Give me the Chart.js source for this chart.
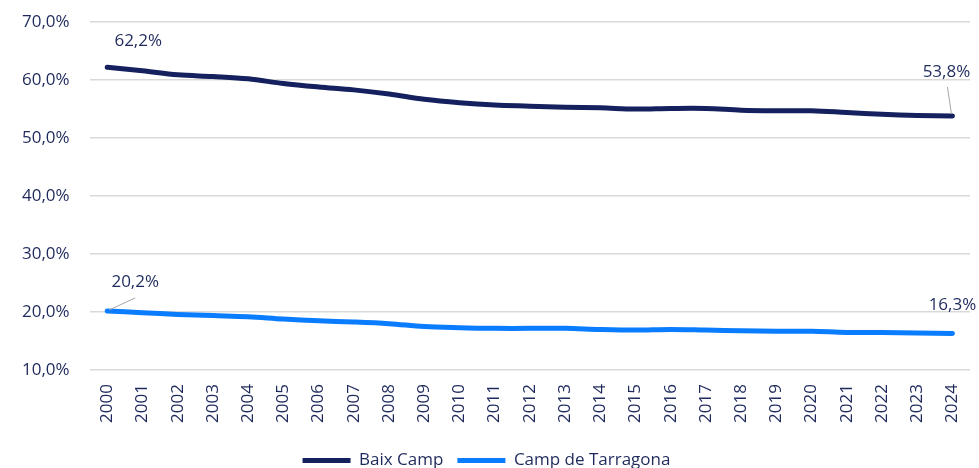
<!DOCTYPE html>
<html>
<head>
<meta charset="utf-8">
<script src="https://cdn.jsdelivr.net/npm/chart.js@4/dist/chart.umd.min.js"></script>
<style>
  html, body { margin: 0; padding: 0; background: #fff; }
  #wrap { width: 979px; height: 468px; }
</style>
</head>
<body>
<div id="wrap"><canvas id="myChart"></canvas></div>
<script>
var years = ["2000", "2001", "2002", "2003", "2004", "2005", "2006", "2007", "2008", "2009", "2010", "2011",
    "2012", "2013", "2014", "2015", "2016", "2017", "2018", "2019", "2020", "2021", "2022", "2023", "2024"];
var baixCamp = [62.2, 61.6, 60.9, 60.6, 60.2, 59.4, 58.8, 58.3, 57.6, 56.7, 56.1, 55.7,
    55.5, 55.3, 55.2, 55.0, 55.1, 55.1, 54.8, 54.7, 54.7, 54.4, 54.1, 53.9, 53.8];
var campTarragona = [20.2, 19.9, 19.6, 19.4, 19.2, 18.8, 18.5, 18.3, 18.0, 17.5, 17.3, 17.2,
    17.2, 17.2, 17.0, 16.9, 17.0, 16.9, 16.8, 16.7, 16.7, 16.5, 16.5, 16.4, 16.3];
var yTicks = [10, 20, 30, 40, 50, 60, 70];

var navy = "#14215e";
var blue = "#0a7cff";
var textColor = "#1f2a5c";
var font = "'Open Sans', sans-serif";

function pct(v) {
    return v.toFixed(1).replace(".", ",") + "%";
}

// labels for first and last point of each line, some with a small leader line
var endLabels = {
    id: "endLabels",
    afterDatasetsDraw: function (chart) {
        var c = chart.ctx;
        c.save();
        c.font = "17px " + font;
        c.fillStyle = textColor;
        c.textAlign = "center";
        c.textBaseline = "middle";
        c.strokeStyle = "#a6a6a6";
        c.lineWidth = 1;
        chart.data.datasets.forEach(function (ds, i) {
            var pts = chart.getDatasetMeta(i).data;
            var first = pts[0], last = pts[pts.length - 1];
            var n = ds.data.length - 1;
            if (i === 0) {
                c.fillText(pct(ds.data[0]), first.x + 31, first.y - 26);
                c.beginPath(); c.moveTo(last.x - 5, last.y - 29); c.lineTo(last.x - 1, last.y - 2); c.stroke();
                c.fillText(pct(ds.data[n]), last.x - 6, last.y - 44);
            } else {
                c.beginPath(); c.moveTo(first.x + 28, first.y - 13); c.lineTo(first.x + 2, first.y - 1); c.stroke();
                c.fillText(pct(ds.data[0]), first.x + 28, first.y - 29);
                c.fillText(pct(ds.data[n]), last.x, last.y - 28);
            }
        });
        c.restore();
    }
};

var ctx = document.getElementById("myChart");
var chart = new Chart(ctx, {
    type: "line",
    data: {
        labels: years,
        datasets: [
            { label: "Baix Camp", data: baixCamp, borderColor: navy, backgroundColor: navy,
              borderWidth: 5, pointRadius: 0, tension: 0.35, borderCapStyle: "round" },
            { label: "Camp de Tarragona", data: campTarragona, borderColor: blue, backgroundColor: blue,
              borderWidth: 5, pointRadius: 0, tension: 0.35, borderCapStyle: "round" }
        ]
    },
    options: {
        responsive: true,
        maintainAspectRatio: false,
        animation: false,
        layout: { padding: { top: 22, right: 8, left: 2, bottom: -11 } },
        plugins: {
            legend: {
                position: "bottom",
                labels: {
                    usePointStyle: true,
                    pointStyle: "line",
                    pointStyleWidth: 48,
                    color: textColor,
                    font: { family: font, size: 17 },
                    padding: 14
                }
            },
            tooltip: { enabled: false }
        },
        scales: {
            x: {
                offset: true,
                grid: { display: false },
                border: { display: false },
                afterFit: function (axis) { axis.height += 9; },
                ticks: {
                    color: textColor,
                    font: { family: font, size: 17 },
                    maxRotation: 90,
                    minRotation: 90,
                    autoSkip: false,
                    padding: 6
                }
            },
            y: {
                min: yTicks[0],
                max: yTicks[yTicks.length - 1],
                afterBuildTicks: function (axis) {
                    axis.ticks = yTicks.map(function (v) { return { value: v }; });
                },
                afterFit: function (axis) { axis.paddingTop = 0; },
                grid: { color: "#d9d9d9", lineWidth: 1.5, drawTicks: false },
                border: { display: false },
                ticks: {
                    color: textColor,
                    font: { family: font, size: 17 },
                    padding: 20,
                    callback: function (v) { return pct(v); }
                }
            }
        }
    },
    plugins: [endLabels]
});
</script>
</body>
</html>
